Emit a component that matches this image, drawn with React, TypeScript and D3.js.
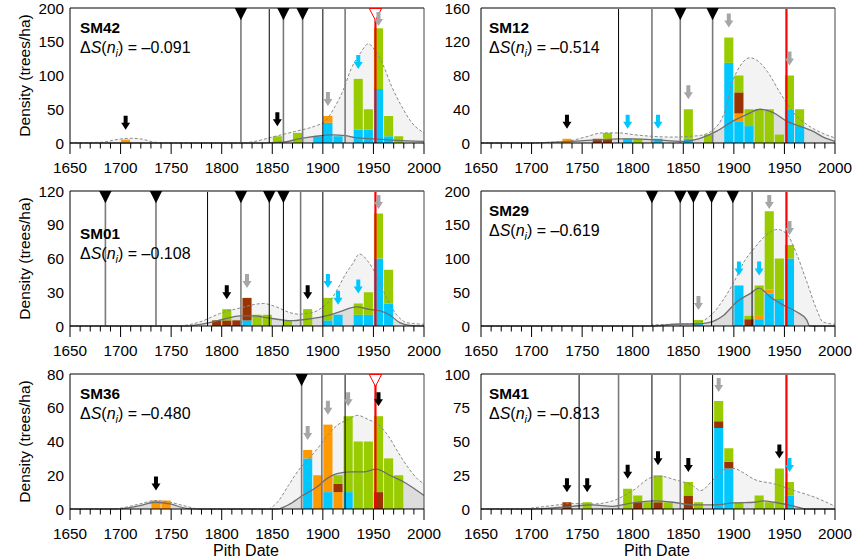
import React from "react";
import * as d3 from "d3";

// ---------- data ----------
const xTicksMajor = [1650, 1700, 1750, 1800, 1850, 1900, 1950, 2000];
const ticks200 = [0, 50, 100, 150, 200];
const ticks160 = [0, 40, 80, 120, 160];
const ticks120 = [0, 30, 60, 90, 120];
const ticks80 = [0, 20, 40, 60, 80];
const ticks100 = [0, 25, 50, 75, 100];

// bars: [bin start, blue, orange, brown, green]
const sm42Bars = [
  [1700, 0, 5, 0, 0], [1850, 0, 0, 0, 10], [1870, 0, 0, 0, 15], [1890, 10, 0, 0, 0],
  [1900, 30, 10, 0, 0], [1910, 10, 0, 0, 0], [1930, 20, 0, 0, 75], [1940, 20, 0, 0, 30],
  [1950, 80, 0, 0, 90], [1960, 10, 0, 0, 30], [1970, 0, 0, 0, 10],
];
const sm12Bars = [
  [1730, 0, 5, 0, 0], [1760, 0, 0, 5, 0], [1770, 0, 0, 5, 7], [1790, 5, 0, 0, 0],
  [1800, 0, 0, 0, 5], [1820, 5, 0, 0, 0], [1850, 5, 0, 0, 35], [1870, 0, 0, 0, 10],
  [1890, 95, 0, 0, 30], [1900, 25, 10, 25, 20], [1910, 20, 0, 0, 20], [1920, 0, 0, 0, 40],
  [1930, 0, 0, 0, 40], [1940, 0, 0, 0, 10], [1950, 40, 0, 0, 40], [1960, 20, 0, 0, 20],
];
const sm01Bars = [
  [1790, 0, 0, 5, 0], [1800, 0, 0, 5, 10], [1810, 0, 0, 5, 0], [1820, 5, 0, 20, 0],
  [1830, 0, 0, 0, 10], [1840, 0, 0, 0, 10], [1860, 0, 0, 0, 5], [1880, 0, 0, 0, 15],
  [1900, 5, 0, 0, 20], [1910, 10, 0, 0, 0], [1930, 10, 0, 0, 10], [1940, 10, 0, 0, 20],
  [1950, 60, 0, 0, 40], [1960, 20, 0, 0, 30],
];
const sm29Bars = [
  [1860, 4, 0, 0, 5], [1900, 60, 0, 0, 0], [1910, 0, 0, 10, 5], [1920, 10, 5, 0, 45],
  [1930, 48, 6, 0, 116], [1940, 40, 0, 0, 60], [1950, 100, 0, 0, 20],
];
const sm36Bars = [
  [1730, 0, 5, 0, 0], [1740, 0, 5, 0, 0], [1880, 30, 5, 0, 0], [1890, 0, 20, 0, 0],
  [1900, 10, 40, 0, 0], [1910, 0, 10, 5, 5], [1920, 10, 0, 0, 45], [1930, 0, 0, 0, 40],
  [1940, 0, 0, 0, 40], [1950, 0, 0, 10, 45], [1960, 0, 0, 0, 30], [1970, 0, 0, 0, 20],
];
const sm41Bars = [
  [1730, 0, 0, 5, 0], [1750, 0, 0, 0, 5], [1790, 0, 0, 0, 15], [1800, 0, 0, 5, 5],
  [1810, 0, 0, 0, 5], [1820, 0, 0, 5, 20], [1830, 0, 0, 0, 5], [1850, 0, 0, 10, 10],
  [1860, 0, 0, 0, 5], [1880, 60, 0, 5, 15], [1890, 30, 0, 5, 10], [1900, 0, 0, 0, 5],
  [1920, 0, 0, 0, 10], [1930, 0, 0, 0, 5], [1940, 0, 0, 0, 30], [1950, 10, 0, 0, 10],
];

// arrows: [bin start, colour key]
const sm42Arrows = [[1700, "k"], [1850, "k"], [1900, "g"], [1930, "c"], [1950, "g"]];
const sm12Arrows = [[1730, "k"], [1790, "c"], [1820, "c"], [1850, "g"], [1890, "g"], [1950, "g"]];
const sm01Arrows = [[1800, "k"], [1820, "g"], [1880, "k"], [1900, "c"], [1910, "c"], [1930, "c"], [1950, "g"]];
const sm29Arrows = [[1860, "g"], [1900, "c"], [1920, "c"], [1930, "g"], [1950, "g"]];
const sm36Arrows = [[1730, "k"], [1880, "g"], [1900, "g"], [1920, "g"], [1950, "k"]];
const sm41Arrows = [[1730, "k"], [1750, "k"], [1790, "k"], [1820, "k"], [1850, "k"], [1880, "g"], [1940, "k"], [1950, "c"]];

// fire years: [year, colour key, has triangle]
const sm42Fires = [[1819, "g", 1], [1847, "k", 0], [1861, "g", 1], [1880, "g", 1], [1900, "k", 0], [1922, "g", 0]];
const sm12Fires = [[1786, "k", 0], [1819, "g", 0], [1847, "g", 1], [1879, "g", 1]];
const sm01Fires = [[1685, "g", 1], [1735, "g", 1], [1786, "k", 0], [1819, "g", 1], [1847, "k", 1], [1861, "k", 1], [1878, "g", 0], [1900, "k", 0]];
const sm29Fires = [[1819, "k", 1], [1847, "g", 1], [1860, "k", 1], [1878, "k", 1], [1899, "g", 1], [1918, "k", 0]];
const sm36Fires = [[1879, "g", 1], [1899, "g", 0], [1922, "k", 0]];
const sm41Fires = [[1747, "k", 0], [1786, "g", 0], [1819, "k", 0], [1847, "g", 0], [1879, "k", 0]];
const redYear = 1952;

// density curves: [year, value]
const sm42Dashed = [[1650, 0.5], [1680, 1], [1700, 6], [1710, 7], [1720, 6], [1735, 1], [1760, 0], [1820, 0], [1833, 2.5], [1853, 10], [1872, 17], [1892, 25], [1902, 32], [1912, 54], [1920, 78], [1928, 110], [1937, 133], [1945, 147], [1952, 136], [1960, 114], [1968, 84], [1978, 54], [1988, 30], [2000, 15]];
const sm42Solid = [[1650, 0], [1840, 0], [1855, 1], [1862, 1.5], [1876, 6], [1893, 10], [1910, 12], [1922, 11], [1932, 8], [1952, 6], [1972, 4], [2000, 2.5]];
const sm12Dashed = [[1650, 0], [1700, 0], [1720, 1], [1735, 2], [1753, 7], [1770, 12], [1786, 12], [1800, 10], [1818, 8], [1840, 7], [1857, 8], [1867, 9], [1880, 16], [1890, 34], [1900, 77], [1906, 91], [1916, 101], [1926, 95], [1933, 85], [1946, 59], [1959, 36], [1972, 22], [1985, 13], [2000, 6]];
const sm12Solid = [[1650, 0], [1700, 0], [1740, 2], [1770, 4], [1785, 5], [1800, 5], [1820, 4], [1850, 2], [1865, 5], [1883, 14], [1899, 26], [1913, 34], [1926, 40], [1939, 36], [1952, 26], [1965, 20], [1978, 14], [1990, 6], [2000, 2]];
const sm01Dashed = [[1650, 0], [1755, 0], [1778, 3.5], [1798, 11], [1818, 16], [1841, 20], [1854, 17], [1867, 12], [1876, 10.5], [1890, 12], [1900, 17], [1910, 26], [1914, 32], [1923, 47], [1930, 56], [1936, 64], [1945, 57], [1953, 45], [1963, 25], [1973, 10], [1983, 3], [2000, 1.5]];
const sm01Solid = [[1650, 0], [1765, 0], [1788, 3], [1802, 6], [1818, 9], [1831, 9], [1844, 7.4], [1861, 5.3], [1868, 4.7], [1884, 6], [1900, 8.3], [1917, 12.7], [1933, 17], [1946, 14.8], [1956, 13.6], [1966, 9.8], [1976, 3], [1986, 0.6], [2000, 0]];
const sm29Dashed = [[1650, 0], [1818, 0], [1819, 1.5], [1860, 3.5], [1870, 8], [1880, 20], [1890, 40], [1900, 65], [1910, 95], [1920, 115], [1930, 132], [1943, 143], [1952, 137], [1962, 107], [1972, 66], [1982, 24], [1988, 6], [2000, 2.5]];
const sm29Solid = [[1650, 0], [1819, 0], [1847, 3], [1863, 3], [1875, 5], [1890, 16], [1903, 36], [1916, 48], [1925, 56], [1936, 43], [1949, 31], [1962, 21], [1972, 9], [1975, 0], [2000, 0]];
const sm36Dashed = [[1650, 0], [1690, 0], [1700, 0.5], [1719, 3], [1734, 5], [1749, 4], [1765, 1.6], [1778, 0], [1845, 0], [1855, 4], [1866, 14], [1876, 23], [1885, 29], [1895, 36], [1905, 44], [1915, 50], [1925, 53], [1934, 55.5], [1945, 53], [1955, 50], [1965, 43], [1975, 33], [1985, 24], [1995, 17], [2000, 15]];
const sm36Solid = [[1650, 0], [1695, 0], [1719, 2], [1734, 4], [1749, 3], [1765, 0.4], [1778, 0], [1855, 0], [1866, 2.5], [1880, 8], [1894, 13], [1904, 18], [1914, 21], [1927, 22], [1940, 22], [1953, 23.6], [1966, 20], [1980, 16], [1993, 11], [2000, 8]];
const sm41Dashed = [[1650, 0], [1690, 0], [1700, 0.7], [1720, 2.5], [1740, 4], [1760, 3.7], [1780, 6], [1800, 13.6], [1820, 23.6], [1830, 24], [1840, 22], [1860, 17], [1867, 13.6], [1880, 22], [1893, 30], [1900, 30], [1909, 27], [1920, 22], [1940, 18.6], [1960, 13.6], [1980, 8.7], [2000, 2]];
const sm41Solid = [[1650, 0], [1700, 0], [1740, 2], [1760, 3], [1780, 2], [1800, 4.5], [1820, 6], [1840, 5], [1860, 3], [1880, 3], [1900, 4.5], [1920, 5], [1929, 6], [1940, 5], [1960, 2], [1972, 0], [2000, 0]];

// ---------- styling ----------
const FONT = "'Liberation Sans', Arial, Helvetica, sans-serif";
const SEG_COLORS = ["#00c8ff", "#ff9900", "#993300", "#99cc00"];
const ARROW_COLORS: Record<string, string> = { k: "#000000", g: "#a6a6a6", c: "#00c8ff" };
const LINE_COLORS: Record<string, string> = { k: "#000000", g: "#7a7a7a" };
const X0 = [70, 481];
const TOPS = [8, 191, 374];
const PW = 354;
const PH = 135;

const panels = [
  { name: "SM42", ds: "\u20130.091", col: 0, row: 0, ticks: ticks200, bars: sm42Bars, arrows: sm42Arrows, fires: sm42Fires, redTri: true, dashed: sm42Dashed, solid: sm42Solid, lab: 0 },
  { name: "SM12", ds: "\u20130.514", col: 1, row: 0, ticks: ticks160, bars: sm12Bars, arrows: sm12Arrows, fires: sm12Fires, redTri: false, dashed: sm12Dashed, solid: sm12Solid, lab: 0 },
  { name: "SM01", ds: "\u20130.108", col: 0, row: 1, ticks: ticks120, bars: sm01Bars, arrows: sm01Arrows, fires: sm01Fires, redTri: false, dashed: sm01Dashed, solid: sm01Solid, lab: 23 },
  { name: "SM29", ds: "\u20130.619", col: 1, row: 1, ticks: ticks200, bars: sm29Bars, arrows: sm29Arrows, fires: sm29Fires, redTri: false, dashed: sm29Dashed, solid: sm29Solid, lab: 0 },
  { name: "SM36", ds: "\u20130.480", col: 0, row: 2, ticks: ticks80, bars: sm36Bars, arrows: sm36Arrows, fires: sm36Fires, redTri: true, dashed: sm36Dashed, solid: sm36Solid, lab: 0 },
  { name: "SM41", ds: "\u20130.813", col: 1, row: 2, ticks: ticks100, bars: sm41Bars, arrows: sm41Arrows, fires: sm41Fires, redTri: false, dashed: sm41Dashed, solid: sm41Solid, lab: 0 },
];

function Panel({ p }: { p: any }) {
  const x0 = X0[p.col];
  const top = TOPS[p.row];
  const bottom = top + PH;
  const max = p.ticks[p.ticks.length - 1];
  const x = d3.scaleLinear().domain([1650, 2000]).range([x0, x0 + PW]);
  const y = d3.scaleLinear().domain([0, max]).range([bottom, top]);
  const area = d3.area<number[]>().x((d) => x(d[0])).y0(bottom).y1((d) => y(d[1])).curve(d3.curveMonotoneX);
  const line = d3.line<number[]>().x((d) => x(d[0])).y((d) => y(d[1])).curve(d3.curveMonotoneX);
  const minor = d3.range(1650, 2001, 10);
  const labelX = p.col === 0 ? 80 : 489;
  const yLabGap = p.col === 0 ? 6 : 11;

  return (
    <g>
      {/* density fills */}
      <path d={area(p.dashed) || ""} fill="#f3f3f3" />
      <path d={area(p.solid) || ""} fill="#dddddd" />
      {/* stacked bars */}
      {p.bars.map((b: number[], i: number) => {
        let acc = 0;
        const xa = x(b[0]) + 0.5;
        const w = x(b[0] + 10) - x(b[0]) - 1;
        return (
          <g key={i}>
            {b.slice(1).map((v, j) => {
              if (!v) return null;
              const y1 = y(acc);
              acc += v;
              const y2 = y(acc);
              return <rect key={j} x={xa} y={y2} width={w} height={y1 - y2} fill={SEG_COLORS[j]} />;
            })}
          </g>
        );
      })}
      {/* curves */}
      <path d={line(p.dashed) || ""} fill="none" stroke="#8a8a8a" strokeWidth={1} strokeDasharray="3,2" />
      <path d={line(p.solid) || ""} fill="none" stroke="#6e6e6e" strokeWidth={1.3} />
      {/* fire lines */}
      {p.fires.map((f: any[], i: number) => (
        <line key={"f" + i} x1={x(f[0])} x2={x(f[0])} y1={top} y2={bottom} stroke={LINE_COLORS[f[1]]} strokeWidth={f[1] === "g" ? 1.6 : 1} />
      ))}
      <line x1={x(redYear)} x2={x(redYear)} y1={top} y2={bottom} stroke="#ff0000" strokeWidth={2.2} />
      {/* frame */}
      <line x1={x0} x2={x0 + PW} y1={top} y2={top} stroke="#808080" strokeWidth={2} />
      <line x1={x0 + PW} x2={x0 + PW} y1={top} y2={bottom} stroke="#444" strokeWidth={1} />
      <line x1={x0} x2={x0} y1={top} y2={bottom} stroke="#000" strokeWidth={1} />
      <line x1={x0} x2={x0 + PW} y1={bottom} y2={bottom} stroke="#000" strokeWidth={1.2} />
      {/* triangles */}
      {p.fires.filter((f: any[]) => f[2]).map((f: any[], i: number) => {
        const cx = x(f[0]);
        return <path key={"t" + i} d={`M${cx - 6.2},${top} L${cx + 6.2},${top} L${cx},${top + 12.3} Z`} fill="#000" />;
      })}
      {p.redTri && (
        <path d={`M${x(redYear) - 6.2},${top + 0.5} L${x(redYear) + 6.2},${top + 0.5} L${x(redYear)},${top + 12.3} Z`} fill="#fff" stroke="#ff0000" strokeWidth={1} />
      )}
      {/* arrows */}
      {p.arrows.map((a: any[], i: number) => {
        const bar = p.bars.find((b: number[]) => b[0] === a[0]);
        const tot = bar ? bar[1] + bar[2] + bar[3] + bar[4] : 0;
        const cx = x(a[0] + 5);
        const tip = Math.max(y(tot) - 10, top + 18);
        const d = `M${cx - 2},${tip - 14} L${cx + 2},${tip - 14} L${cx + 2},${tip - 7} L${cx + 4.5},${tip - 7} L${cx},${tip} L${cx - 4.5},${tip - 7} L${cx - 2},${tip - 7} Z`;
        return <path key={"a" + i} d={d} fill={ARROW_COLORS[a[1]]} />;
      })}
      {/* x ticks */}
      {minor.map((t) => (
        <line key={"m" + t} x1={x(t)} x2={x(t)} y1={bottom} y2={bottom + (t % 50 === 0 ? 11 : 5.5)} stroke="#000" strokeWidth={1} />
      ))}
      {xTicksMajor.map((t) => (
        <text key={"xl" + t} x={x(t)} y={bottom + 30} textAnchor="middle" fontSize={15.3} fontFamily={FONT} fill="#000">
          {t}
        </text>
      ))}
      {/* y labels */}
      {p.ticks.map((t: number) => (
        <text key={"yl" + t} x={x0 - yLabGap} y={y(t)} dy="0.36em" textAnchor="end" fontSize={15.3} fontFamily={FONT} fill="#000">
          {t}
        </text>
      ))}
      {p.col === 0 && (
        <text transform={`translate(29.5,${(top + bottom) / 2}) rotate(-90)`} textAnchor="middle" fontSize={15.5} fontFamily={FONT} fill="#000">
          Density (trees/ha)
        </text>
      )}
      {p.row === 2 && (
        <text x={x0 + PW / 2 - 1} y={556} textAnchor="middle" fontSize={16} fontFamily={FONT} fill="#000">
          Pith Date
        </text>
      )}
      {/* panel labels */}
      <text x={labelX} y={top + 25 + p.lab} fontSize={15.3} fontWeight="bold" fontFamily={FONT} fill="#000">
        {p.name}
      </text>
      <text x={labelX} y={top + 45 + p.lab} fontSize={16} fontFamily={FONT} fill="#000">
        <tspan>Δ</tspan>
        <tspan fontStyle="italic">S</tspan>
        <tspan>(</tspan>
        <tspan fontStyle="italic">n</tspan>
        <tspan fontStyle="italic" fontSize={11} dy={4}>i</tspan>
        <tspan dy={-4}>{") = " + p.ds}</tspan>
      </text>
    </g>
  );
}

export default function App() {
  return (
    <svg width={859} height={560} style={{ position: "absolute", left: 0, top: 0, background: "#fff" }}>
      <rect x={0} y={0} width={859} height={560} fill="#fff" />
      {panels.map((p) => (
        <Panel key={p.name} p={p} />
      ))}
    </svg>
  );
}
